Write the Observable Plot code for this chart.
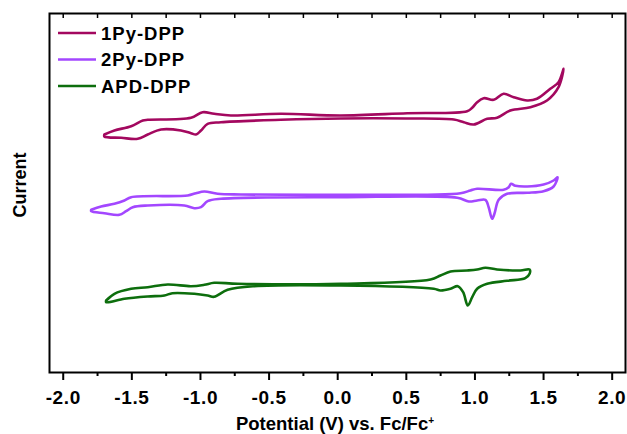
<!DOCTYPE html>
<html><head><meta charset="utf-8">
<script src="https://cdn.jsdelivr.net/npm/d3@7"></script>
<script src="https://cdn.jsdelivr.net/npm/@observablehq/plot@0.6"></script>
<style>
body{margin:0;background:#fff}
#chart{width:627px;height:434px}
</style>
</head><body><div id="chart"></div>
<script>
// ---- data (current in arbitrary units) ----
const seriesNames = ["1Py-DPP", "2Py-DPP", "APD-DPP"];
const seriesColors = ["#a3085f", "#a347ff", "#0d6e0d"];

// each loop: forward (upper) branch left->right, then return (lower) branch right->left
const py1Potential = [-1.700,-1.627,-1.505,-1.420,-1.384,-1.069,-0.984,-0.900,-0.778,-0.415,0.022,0.507,0.943,0.980,1.016,1.064,1.137,1.209,1.282,1.380,1.452,1.549,1.609,1.646,
  1.609,1.525,1.404,1.258,1.161,1.089,0.991,0.919,0.846,0.500,0.022,-0.415,-0.851,-0.948,-0.996,-1.033,-1.069,-1.142,-1.287,-1.384,-1.457,-1.578,-1.700];
const py1Current = [238,242,246.3,252,252.7,254.7,260.3,258.7,257,258.7,257,259.3,261.3,264.7,270.3,274.3,272.7,278.7,275.3,272,273.7,283.7,290.3,303.7,
  285.3,272,265.3,262,254.7,253.7,248,250.3,253,254,254,252.7,250.3,248.7,242,238,239.3,242,243,238,233.7,234.7,236];

const py2Potential = [-1.796,-1.724,-1.627,-1.554,-1.505,-1.093,-1.033,-0.972,-0.875,-0.705,0.022,0.895,0.967,1.016,1.209,1.246,1.263,1.295,1.380,1.500,1.573,1.602,
  1.573,1.500,1.380,1.234,1.173,1.142,1.125,1.100,1.076,1.016,0.955,0.871,0.022,-0.851,-0.948,-0.996,-1.045,-1.118,-1.384,-1.493,-1.542,-1.591,-1.700,-1.796];
const py2Current = [162.7,166,168.7,172,175.3,177,179.3,181,178.7,178,177.7,179.3,182,183.7,182.7,185.3,188.7,186.7,186,188,192,195.3,
  186,181.3,179.7,178.7,172.7,158.7,153.7,165.3,172.7,172,171,174.7,175.3,173.7,171.3,165.3,164.3,167,167,165.3,161.3,157.7,159.3,161.3];

const apdPotential = [-1.687,-1.627,-1.505,-1.384,-1.239,-1.069,-0.972,-0.900,-0.729,0.022,0.676,0.749,0.822,0.943,1.016,1.076,1.161,1.331,1.398,
  1.398,1.367,1.234,1.089,1.016,0.980,0.948,0.914,0.875,0.822,0.749,0.700,0.022,-0.609,-0.802,-0.900,-0.948,-1.045,-1.205,-1.263,-1.384,-1.554,-1.687];
const apdCurrent = [72,78.7,83.7,85.3,88,86.3,87.7,89.7,88.7,88.7,93,97,101,102,103,104.7,103,102,103,
  98.7,94.3,91.7,88.7,83.7,75.3,67,80.3,86.3,83.7,82,83.7,87,86.3,82.7,75.7,77,78.7,79.3,77,76,73.7,70.3];

const majorTicks = [-2.0,-1.5,-1.0,-0.5,0.0,0.5,1.0,1.5,2.0];
const minorTicks = [-1.75,-1.25,-0.75,-0.25,0.25,0.75,1.25,1.75];
const topTicks = [-2.0,-1.75,-1.5,-1.25,-1.0,-0.75,-0.5,-0.25,0.0,0.25,0.5,0.75,1.0,1.25,1.5,1.75,2.0];
const xTitle = "Potential (V) vs. Fc/Fc";
const xTitleSup = "+";
const yTitle = "Current";

// ---- build table ----
const loops = [[py1Potential, py1Current], [py2Potential, py2Current], [apdPotential, apdCurrent]];
const rows = [];
loops.forEach(([V, I], s) => {
  V.forEach((v, i) => rows.push({series: seriesNames[s], potential: v, current: I[i], order: i}));
  rows.push({series: seriesNames[s], potential: V[0], current: I[0], order: V.length});
});

const FONT = "'Liberation Sans', Arial, Helvetica, sans-serif";

const plot = Plot.plot({
  width: 627,
  height: 434,
  marginLeft: 49,
  marginRight: 2,
  marginTop: 13,
  marginBottom: 62,
  style: {fontFamily: FONT, fontSize: "19px", fontWeight: "bold", letterSpacing: "0.6px", background: "#fff", color: "#000"},
  x: {domain: [-2.1, 2.097]},
  y: {domain: [0, 359]},
  color: {domain: seriesNames, range: seriesColors},
  marks: [
    Plot.line(rows, {x: "potential", y: "current", z: "series", stroke: "series", strokeWidth: 2.6, curve: "catmull-rom", sort: null}),
    Plot.axisX({anchor: "bottom", ticks: majorTicks, tickSize: 8, tickPadding: 10, strokeWidth: 2, tickFormat: d => d.toFixed(1), label: null}),
    Plot.axisX({anchor: "bottom", ticks: minorTicks, tickSize: 4, strokeWidth: 2, tickFormat: () => "", label: null}),
    Plot.axisX({anchor: "top", ticks: topTicks, tickSize: -4, strokeWidth: 1.5, tickFormat: () => "", label: null}),
    Plot.axisY({ticks: [], label: null}),
    Plot.frame({stroke: "#000", strokeWidth: 2})
  ]
});
document.getElementById("chart").appendChild(plot);

// ---- titles and legend ----
const svg = d3.select(plot);
const xt = svg.append("text")
  .attr("x", 335).attr("y", 430)
  .attr("text-anchor", "middle")
  .style("font-family", FONT).style("font-size", "18.5px").style("font-weight", "bold").style("letter-spacing", "0px").attr("fill", "#000")
  .text(xTitle);
xt.append("tspan").attr("dy", "-0.6em").style("font-size", "10px").text(xTitleSup);

svg.append("text")
  .attr("transform", "translate(26,185) rotate(-90)")
  .attr("text-anchor", "middle")
  .style("font-family", FONT).style("font-size", "18px").style("font-weight", "bold").style("letter-spacing", "0px").attr("fill", "#000")
  .text(yTitle);

const leg = svg.append("g");
seriesNames.forEach((name, i) => {
  const cy = 33 + i * 26.5;
  leg.append("line").attr("x1", 58).attr("x2", 96).attr("y1", cy).attr("y2", cy)
    .attr("stroke", seriesColors[i]).attr("stroke-width", 2.4);
  leg.append("text").attr("x", 101).attr("y", cy + 6.5)
    .attr("text-anchor", "start")
    .style("font-family", FONT).style("font-size", "18.5px").style("font-weight", "bold").style("letter-spacing", "1px").attr("fill", "#000")
    .text(name);
});
</script>
</body></html>
